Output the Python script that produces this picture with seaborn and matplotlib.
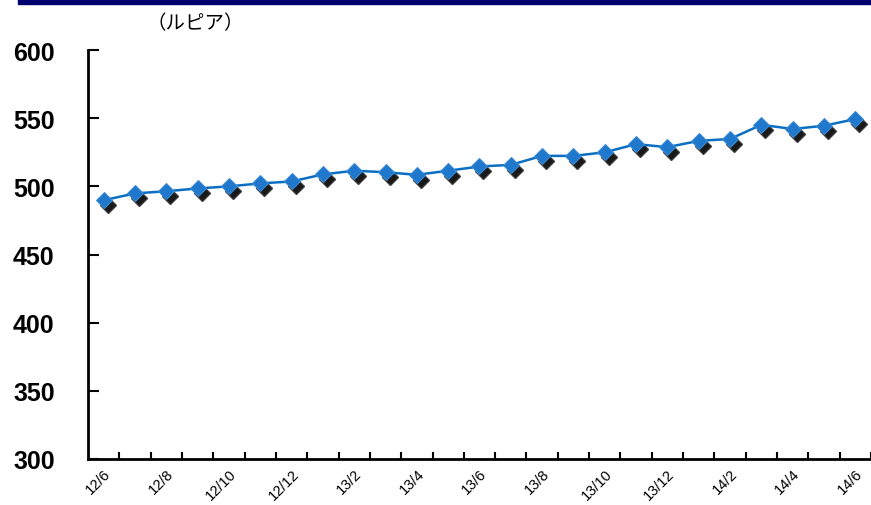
import pandas as pd
import matplotlib
matplotlib.use("Agg")
import matplotlib.pyplot as plt
import matplotlib.transforms as mtransforms
from matplotlib.patches import Rectangle
import seaborn as sns

# monthly rate, rupiah (12/6 - 14/6)
months = ["12/6", "12/7", "12/8", "12/9", "12/10", "12/11", "12/12",
          "13/1", "13/2", "13/3", "13/4", "13/5", "13/6", "13/7", "13/8",
          "13/9", "13/10", "13/11", "13/12", "14/1", "14/2", "14/3", "14/4",
          "14/5", "14/6"]
rupiah = [489.8, 494.9, 496.4, 498.5, 500.0, 502.2, 503.6,
          508.8, 511.5, 510.4, 508.5, 511.5, 514.6, 515.8, 522.4,
          522.4, 525.0, 531.0, 528.8, 533.4, 534.8, 545.2, 542.1,
          544.5, 549.4]

df = pd.DataFrame({"month": months, "value": rupiah})
df["pos"] = range(len(df))

sns.set_style("white")
plt.rcParams["font.family"] = ["Liberation Sans", "DejaVu Sans"]

fig = plt.figure(figsize=(8.71, 5.06), dpi=100)
ax = fig.add_axes([0.101, 0.091, 0.899, 0.808])

# drop shadow markers
shadow = mtransforms.offset_copy(ax.transData, fig=fig, x=4, y=-5, units="dots")
ax.plot(df["pos"], df["value"], linestyle="none", marker="D", markersize=8,
        color="black", markeredgecolor="#333333", alpha=0.9, transform=shadow, zorder=2)

sns.lineplot(data=df, x="pos", y="value", ax=ax, color="#0a6fc2", linewidth=1.8,
             marker="D", markersize=8.5, markeredgecolor="#3a8ad6", markerfacecolor="#1f78cc",
             zorder=3)

ax.set_xlim(-0.5, len(months) - 0.5)
ax.set_ylim(300, 600)
ax.set_yticks(range(300, 601, 50))
ax.set_xticks(df["pos"][::2])
ax.set_xticklabels(df["month"][::2], rotation=45, ha="right", rotation_mode="anchor",
                   fontsize=10.5, color="black")
ax.set_xticks([p + 0.5 for p in df["pos"]], minor=True)
ax.tick_params(axis="x", which="major", bottom=True, length=0, pad=5)
ax.tick_params(axis="x", which="minor", bottom=True, direction="in", length=5, width=1.5,
               color="black")
ax.tick_params(axis="y", left=True, direction="in", length=8, width=1.5, color="black",
               labelsize=18, labelcolor="black", pad=24)
for lab in ax.get_yticklabels():
    lab.set_fontweight("bold")
ax.set_xlabel("")
ax.set_ylabel("")

for side in ["top", "right"]:
    ax.spines[side].set_visible(False)
for side in ["left", "bottom"]:
    ax.spines[side].set_color("black")
    ax.spines[side].set_linewidth(2)

# unit label and top banner
fig.text(0.168, 0.953, "（ルピア）", fontsize=14, family=["Noto Sans CJK JP", "DejaVu Sans"],
         ha="left", va="center", color="black")
fig.patches.append(Rectangle((18 / 871, 1 - 5 / 506), 1, 5 / 506, transform=fig.transFigure,
                             color="#00006e", zorder=5))

fig.savefig("out.png", dpi=100)
